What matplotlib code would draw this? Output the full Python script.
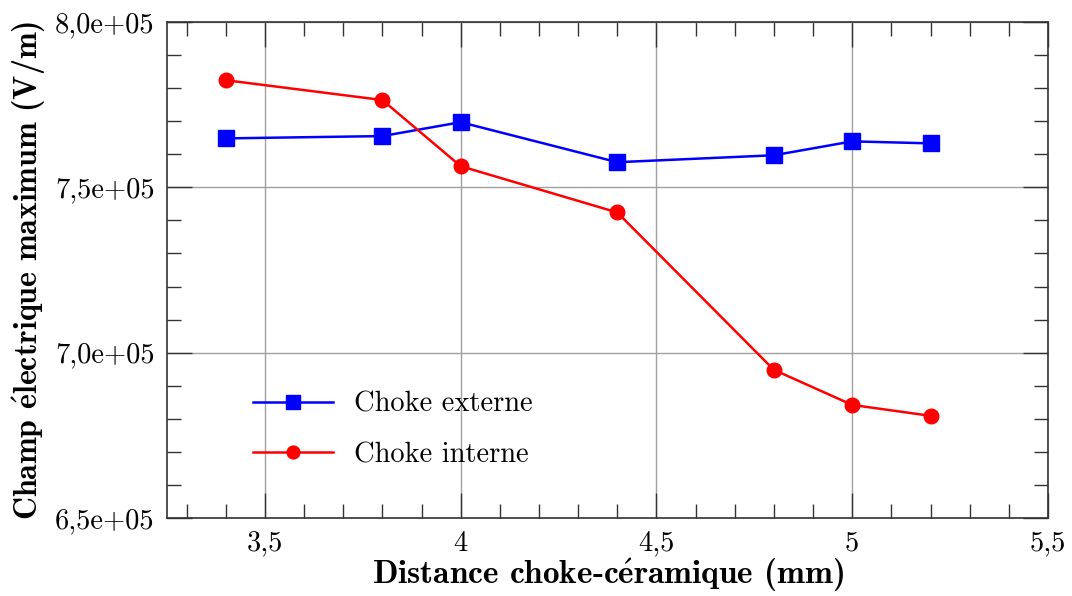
import matplotlib
matplotlib.use("Agg")
import matplotlib.pyplot as plt
from matplotlib.ticker import MultipleLocator, FuncFormatter

distance = [3.4, 3.8, 4.0, 4.4, 4.8, 5.0, 5.2]
choke_externe = [7.648e5, 7.655e5, 7.697e5, 7.576e5, 7.597e5, 7.639e5, 7.633e5]
choke_interne = [7.824e5, 7.764e5, 7.564e5, 7.424e5, 6.948e5, 6.842e5, 6.809e5]
labels = ["Choke externe", "Choke interne"]
xlabel = "Distance choke-c$\\mathbf{\\acute{e}}$ramique (mm)"
ylabel = "Champ $\\mathbf{\\acute{e}}$lectrique maximum (V/m)"

plt.rcParams['font.family'] = ['cmr10', 'DejaVu Serif']
plt.rcParams['mathtext.fontset'] = 'cm'

fig = plt.figure(figsize=(10.72, 5.96), dpi=100)
ax = fig.add_axes([167/1072, 1-518/596, (1048-167)/1072, (518-22)/596])

ax.plot(distance, choke_externe, color='#0000ff', lw=1.8, marker='s', ms=11.5, label=labels[0])
ax.plot(distance, choke_interne, color='#ff0000', lw=1.8, marker='o', ms=10.5, label=labels[1])

ax.set_xlim(3.25, 5.5)
ax.set_ylim(6.5e5, 8.0e5)
ax.xaxis.set_major_locator(MultipleLocator(0.5))
ax.xaxis.set_minor_locator(MultipleLocator(0.1))
ax.yaxis.set_major_locator(MultipleLocator(0.5e5))
ax.yaxis.set_minor_locator(MultipleLocator(0.1e5))

def xfmt(v, pos):
    return f"{v:g}".replace('.', ',')

def yfmt(v, pos):
    return f"{v:.1e}".replace('.', ',')

ax.xaxis.set_major_formatter(FuncFormatter(xfmt))
ax.yaxis.set_major_formatter(FuncFormatter(yfmt))

ax.tick_params(which='both', direction='in', top=True, right=True, color='#333333', width=1.0, labelsize=20.5, pad=9)
ax.tick_params(which='major', length=18)
ax.tick_params(which='minor', length=10)
ax.grid(True, which='major', color='#a0a0a0', lw=1.0)
ax.set_axisbelow(True)
for sp in ax.spines.values():
    sp.set_color('#333333')
    sp.set_linewidth(1.2)

ax.set_xlabel(xlabel, family=['cmb10', 'DejaVu Serif'], size=24, labelpad=0)
ax.set_ylabel(ylabel, family=['cmb10', 'DejaVu Serif'], size=23, labelpad=6)

leg = ax.legend(loc='center left', bbox_to_anchor=(0.069, 0.178), frameon=False, fontsize=20.5,
                markerscale=0.88, handlelength=2.8, labelspacing=0.85, handletextpad=0.74)

fig.savefig("out.png", dpi=100)
